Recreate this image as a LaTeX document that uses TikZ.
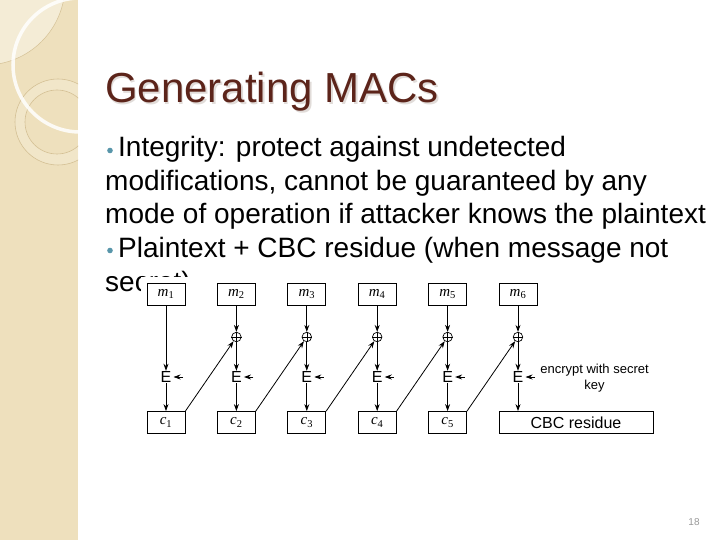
\documentclass[tikz,border=0pt]{standalone}
\usepackage{fontspec}
\setmainfont{Liberation Sans}
\newfontfamily\timesfam{Liberation Serif}
\usetikzlibrary{arrows.meta}
\definecolor{sidebar}{RGB}{238,224,189}
\definecolor{sidelight}{RGB}{244,236,214}
\definecolor{circline}{RGB}{212,192,148}
\definecolor{titlec}{RGB}{92,36,26}
\definecolor{titleshadow}{RGB}{225,220,217}
\definecolor{bulletc}{RGB}{88,150,170}
\newcommand{\mvar}[2]{{\timesfam\itshape #1}\textsubscript{\timesfam #2}}
\begin{document}
\begin{tikzpicture}[x=1pt,y=-1pt,
  box/.style={draw, line width=0.8pt, minimum width=38pt, minimum height=22pt, inner sep=0pt, font=\fontsize{15}{15}\selectfont},
  xorn/.style={circle, draw, line width=0.7pt, minimum size=9.5pt, inner sep=0pt},
  enc/.style={inner sep=0.5pt, font=\fontsize{16}{16}\selectfont},
  arr/.style={-{Stealth[length=7pt,width=5pt]}, line width=0.8pt},
  body/.style={anchor=base west, inner sep=0pt, font=\fontsize{28}{33}\selectfont},
  titlestyle/.style={anchor=base west, inner sep=0pt, font=\fontsize{42}{42}\selectfont}]
\useasboundingbox (0,0) rectangle (720,540);
\fill[white] (0,0) rectangle (720,540);
% sidebar
\begin{scope}
  \clip (0,0) rectangle (78,540);
  \fill[sidebar] (0,0) rectangle (78,540);
  \fill[sidelight] (-15,-15) circle (80);
  \draw[circline, line width=0.5pt] (-15,-15) circle (80);
  \fill[sidelight, opacity=0.5, even odd rule] (58,122) circle (43) (57,122) circle (32);
  \draw[circline, line width=0.6pt] (58,122) circle (43);
  \draw[circline, line width=0.6pt] (57,122) circle (32);
  \draw[white, opacity=0.85, line width=3.5pt] (80,65) circle (67);
\end{scope}
% title
\node[titlestyle, text=titleshadow] at (106.5,104.5) {Generating MACs};
\node[titlestyle, text=titlec] (title) at (105,103) {Generating MACs};
% body text
\fill[bulletc] (110,150.5) circle (2.8);
\node[body] (l1) at (118,157) {Integrity: protect against undetected};
\node[body] (l2) at (105,190.5) {modifications, cannot be guaranteed by any};
\node[body] (l3) at (105,224) {mode of operation if attacker knows the plaintext};
\fill[bulletc] (110,250.5) circle (2.8);
\node[body] (l4) at (118,257) {Plaintext + CBC residue (when message not};
\node[body] (l5) at (105,291.5) {secret)};
% diagram image background
\fill[white] (141,277) rectangle (660,440);
% diagram
\foreach \i [evaluate=\i as \x using 166+70.4*(\i-1)] in {1,...,6} {
  \node[box] (m\i) at (\x,294) {\mvar{m}{\i}};
  \node[enc] (e\i) at (\x,377) {E};
  \coordinate (k\i) at (\x+17,377);
  \draw[arr, shorten >=1.5pt] (k\i) -- (e\i.east);
}
\foreach \i [evaluate=\i as \x using 166+70.4*(\i-1)] in {1,...,5} {
  \node[box] (c\i) at (\x,422.5) {\mvar{c}{\i}};
}
\foreach \i [evaluate=\i as \x using 166+70.4*(\i-1)] in {2,...,6} {
  \node[xorn] (x\i) at (\x,337) {};
  \draw[line width=0.6pt] (x\i.north) -- (x\i.south) (x\i.west) -- (x\i.east);
}
\node[box, minimum width=154pt, font=\fontsize{16}{16}\selectfont] (cbc) at (576,422.5) {CBC residue};
\node[align=center, inner sep=0pt, font=\fontsize{13}{16}\selectfont] (keylab) at (594.5,378.6) {encrypt with secret\\key};
% arrows
\draw[arr] (m1) -- (e1);
\draw[arr] (e1) -- (c1);
\foreach \i in {2,...,5} {
  \draw[arr] (m\i) -- (x\i);
  \draw[arr] (x\i) -- (e\i);
  \draw[arr] (e\i) -- (c\i);
}
\draw[arr] (m6) -- (x6);
\draw[arr] (x6) -- (e6);
\draw[arr] (e6) -- (e6 |- cbc.north);
\foreach \i/\j in {1/2,2/3,3/4,4/5,5/6} {
  \draw[arr] (c\i.north east) -- (x\j);
}
% page number
\node[text=black!40, inner sep=0pt, font=\fontsize{10}{10}\selectfont] (pg) at (694,522) {18};
\end{tikzpicture}
\end{document}
